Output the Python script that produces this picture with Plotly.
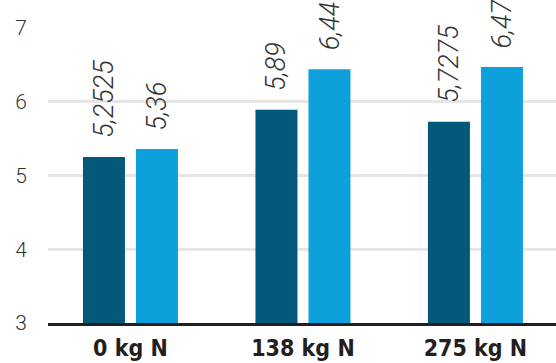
import plotly.graph_objects as go

# Yield by nitrogen rate, two series
categories = ["0 kg N", "138 kg N", "275 kg N"]
series_a = [5.2525, 5.89, 5.7275]
series_b = [5.36, 6.44, 6.47]
y_ticks = [3, 4, 5, 6, 7]

dark = "#03597a"
light = "#0ea0db"

# bar geometry in category units (one category = 172.5 px)
bar_w = 0.2435
offset_a = -0.2754
offset_b = 0.0319


def fmt(v):
    return f"{v:g}".replace(".", ",")


fig = go.Figure()
fig.add_trace(go.Bar(x=categories, y=series_a, width=bar_w, offset=offset_a,
                     marker=dict(color=dark, line=dict(width=0)),
                     showlegend=False, hoverinfo="skip"))
fig.add_trace(go.Bar(x=categories, y=series_b, width=bar_w, offset=offset_b,
                     marker=dict(color=light, line=dict(width=0)),
                     showlegend=False, hoverinfo="skip"))

label_font = dict(family="Roboto", size=27, color="#333333", style="italic", weight=300)
for i, cat in enumerate(categories):
    for vals, shift in ((series_a, -26.5), (series_b, 26.5)):
        fig.add_annotation(x=cat, y=vals[i], text="<i>" + fmt(vals[i]) + "</i>", textangle=-90,
                           xanchor="center", yanchor="bottom", xshift=shift, yshift=17,
                           showarrow=False, font=label_font)

fig.update_layout(
    width=556, height=363,
    margin=dict(l=48, r=0, t=28, b=40),
    paper_bgcolor="white", plot_bgcolor="white",
    xaxis=dict(range=[-0.478, 2.467], showgrid=False, showline=True, linewidth=3,
               linecolor="#231f20", ticks="", ticklabelstandoff=2, automargin=False,
               tickfont=dict(family="DejaVu Sans Condensed, Liberation Sans", size=23,
                             color="#231f20", weight=700)),
    yaxis=dict(range=[3, 7], tickvals=y_ticks, showgrid=True, gridcolor="#e6e6e6", gridwidth=2.5,
               zeroline=False, showline=False, ticks="", ticklabelstandoff=20, automargin=False,
               tickfont=dict(family="Roboto", size=21, color="#333333", weight=300)),
)

fig.write_html("out.html")
